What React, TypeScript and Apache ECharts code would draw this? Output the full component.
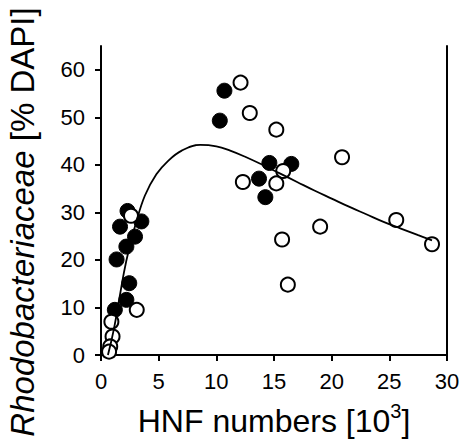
import React, { useEffect, useRef } from "react";
import * as echarts from "echarts";

const FONT = "Liberation Sans, Arial, sans-serif";

const xTicks = [0, 5, 10, 15, 20, 25, 30];
const yTicks = [0, 10, 20, 30, 40, 50, 60];

// Filled (black) circles
const filledX = [10.7, 10.3, 14.6, 16.5, 13.7, 14.25, 3.5, 2.3, 1.65, 2.95, 2.2, 1.35, 2.45, 2.2, 1.2];
const filledY = [55.6, 49.3, 40.4, 40.2, 37.1, 33.2, 28.1, 30.3, 27.0, 24.9, 22.8, 20.1, 15.1, 11.6, 9.5];

// Open (white) circles
const openX = [12.1, 12.9, 15.2, 20.9, 15.8, 12.3, 15.2, 25.6, 28.7, 19.0, 15.7, 16.2, 2.6, 3.1, 0.9, 1.0, 0.8, 0.7];
const openY = [57.3, 50.9, 47.4, 41.6, 38.7, 36.4, 36.1, 28.4, 23.3, 27.0, 24.3, 14.8, 29.3, 9.5, 7.0, 3.9, 1.8, 0.7];

// Fitted curve
const fitX = [0.6, 0.9, 1.2, 1.6, 2.0, 2.4, 3.0, 3.8, 4.8, 5.8, 7.0, 8.6, 10.0, 11.2, 12.5, 14.0, 15.5, 17.0, 18.5, 20.0, 21.5, 23.0, 24.5, 26.0, 27.5, 28.7];
const fitY = [0, 3, 6.5, 12, 17.5, 22, 27.5, 33.5, 38, 40.8, 43, 44.2, 43.9, 43.0, 41.7, 40.0, 38.2, 36.4, 34.6, 32.9, 31.2, 29.6, 28.0, 26.6, 25.2, 24.1];

const zip = (xs: number[], ys: number[]) => xs.map((x, i) => [x, ys[i]]);

export default function App() {
  const ref = useRef<HTMLDivElement>(null);
  useEffect(() => {
    if (!ref.current) return;
    const chart = echarts.init(ref.current, null, { renderer: "svg" });
    chart.setOption({
      animation: false,
      backgroundColor: "#fff",
      grid: { left: 101, right: 14, top: 46, bottom: 88, containLabel: false, outerBoundsMode: "none" },
      xAxis: {
        type: "value",
        min: 0,
        max: 30,
        interval: 5,
        splitLine: { show: false },
        axisLine: { show: true, onZero: false, lineStyle: { color: "#000", width: 2 } },
        axisTick: { show: true, inside: false, length: 6, customValues: xTicks, lineStyle: { color: "#000", width: 2 } },
        axisLabel: { color: "#000", fontSize: 22, fontFamily: FONT, margin: 15, customValues: xTicks },
        name: "{n|HNF numbers [10}{s|3}{n|]}",
        nameLocation: "middle",
        nameGap: 44,
        nameTextStyle: {
          verticalAlign: "top",
          rich: {
            n: { fontSize: 32, lineHeight: 34, fontFamily: FONT, color: "#000", verticalAlign: "top", padding: [6, 0, 0, 0] },
            s: { fontSize: 20, lineHeight: 20, fontFamily: FONT, color: "#000", verticalAlign: "top", padding: [2, 0, 0, 0] },
          },
        },
      },
      yAxis: [
        {
          type: "value",
          min: 0,
          max: 65,
          splitLine: { show: false },
          axisLine: { show: true, onZero: false, lineStyle: { color: "#000", width: 2 } },
          axisTick: { show: true, inside: false, length: 6, customValues: yTicks, lineStyle: { color: "#000", width: 2 } },
          axisLabel: { color: "#000", fontSize: 22, fontFamily: FONT, margin: 16, customValues: yTicks },
        },
        {
          type: "value",
          position: "right",
          min: 0,
          max: 65,
          splitLine: { show: false },
          axisLine: { show: true, onZero: false, lineStyle: { color: "#000", width: 2 } },
          axisTick: { show: false },
          axisLabel: { show: false },
        },
      ],
      graphic: [
        {
          type: "text",
          x: 22,
          y: 222,
          rotation: Math.PI / 2,
          style: {
            text: "{i|Rhodobacteriaceae} [% DAPI]",
            fontSize: 33,
            fontFamily: FONT,
            fill: "#000",
            align: "center",
            verticalAlign: "middle",
            rich: {
              i: { fontStyle: "italic", fontSize: 33, fontFamily: FONT, fill: "#000" },
            },
          },
        },
      ],
      series: [
        {
          type: "scatter",
          data: zip(filledX, filledY),
          symbol: "circle",
          symbolSize: 15,
          itemStyle: { color: "#000", borderColor: "#000", borderWidth: 1, opacity: 1 },
          z: 2,
        },
        {
          type: "scatter",
          data: zip(openX, openY),
          symbol: "circle",
          symbolSize: 14,
          itemStyle: { color: "#fff", borderColor: "#000", borderWidth: 2, opacity: 1 },
          z: 3,
        },
        {
          type: "line",
          data: zip(fitX, fitY),
          smooth: 0.4,
          showSymbol: false,
          symbol: "none",
          lineStyle: { color: "#000", width: 1.8 },
          z: 4,
        },
      ],
    });
    return () => chart.dispose();
  }, []);
  return (
    <div
      ref={ref}
      style={{ position: "fixed", left: 0, top: 0, width: 461, height: 443 }}
    />
  );
}
